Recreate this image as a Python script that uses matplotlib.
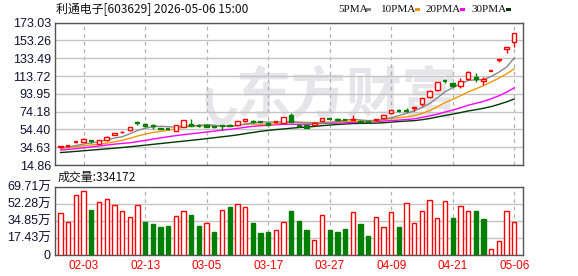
import matplotlib
matplotlib.use("Agg")
import matplotlib.pyplot as plt
import matplotlib.patches as patches
import numpy as np

plt.rcParams['font.family'] = ['Liberation Sans', 'Noto Sans CJK SC', 'DejaVu Sans']

RED = '#ff0000'
GREEN = '#007f00'

title = '利通电子[603629] 2026-05-06 15:00'
vol_title = '成交量:334172'

# trading days, index 0..59
tick_pos = [3, 11, 19, 27, 35, 43, 51, 59]
tick_labels = ['02-03', '02-13', '03-05', '03-17', '03-27', '04-09', '04-21', '05-06']

opens = [34.8, 35.5, 39.8, 40.4, 41.2, 38.5, 42.6, 48.6, 51.0, 53.4,
         61.3, 60.2, 59.3, 56.0, 55.0, 53.2, 57.4, 60.8, 59.0, 59.0,
         57.4, 58.8, 59.5, 59.0, 63.4, 64.0, 62.6, 62.0, 62.0, 61.9,
         70.5, 59.6, 58.8, 59.8, 64.0, 66.2, 66.2, 65.4, 64.9, 64.2,
         63.4, 64.5, 67.2, 72.3, 75.5, 75.3, 77.7, 82.7, 90.1, 97.9,
         108.8, 105.6, 103.2, 110.0, 112.2, 108.6, 119.4, 131.2, 143.4, 152.0]
closes = [35.6, 36.3, 40.5, 43.7, 40.8, 42.6, 46.3, 50.0, 52.0, 56.8,
          61.0, 58.6, 58.2, 55.0, 54.3, 58.9, 64.9, 58.2, 58.5, 57.6,
          56.6, 57.9, 58.2, 63.8, 65.6, 62.8, 62.0, 59.4, 62.8, 67.8,
          63.0, 58.6, 56.5, 62.0, 66.6, 65.9, 64.5, 64.9, 66.4, 63.0,
          62.2, 66.0, 70.0, 75.6, 75.0, 74.9, 79.5, 89.0, 97.4, 106.8,
          108.3, 102.8, 108.6, 117.9, 110.0, 110.0, 120.0, 132.3, 145.7, 161.2]
highs = [36.0, 36.8, 41.0, 44.5, 42.5, 43.0, 46.8, 50.5, 52.5, 57.2,
         63.5, 61.0, 60.0, 56.5, 55.4, 59.3, 65.3, 66.0, 60.5, 59.5,
         57.8, 59.3, 60.0, 64.2, 66.0, 64.6, 63.0, 62.4, 63.2, 68.2,
         72.5, 60.0, 59.0, 62.3, 67.0, 67.5, 66.6, 65.8, 70.5, 64.6,
         63.8, 66.4, 70.4, 76.0, 77.0, 78.5, 79.8, 89.5, 97.8, 107.2,
         110.8, 106.5, 111.4, 119.7, 116.6, 112.8, 120.2, 132.5, 146.0, 161.5]
lows = [33.5, 35.0, 39.0, 40.0, 39.5, 38.0, 42.0, 48.3, 50.5, 53.0,
        59.5, 58.3, 55.0, 54.5, 53.8, 52.8, 57.0, 57.8, 57.0, 57.0,
        56.2, 53.8, 57.8, 58.7, 62.5, 62.0, 61.6, 59.0, 61.8, 61.5,
        62.6, 57.0, 56.2, 59.5, 63.8, 64.8, 64.2, 64.5, 64.6, 62.7,
        61.8, 64.0, 66.8, 71.8, 73.8, 73.8, 75.2, 80.5, 89.6, 97.5,
        105.6, 101.6, 101.0, 109.6, 107.2, 104.0, 119.2, 129.4, 139.0, 146.4]

ma5 = [34.5, 35.0, 36.5, 38.2, 39.4, 40.8, 42.8, 44.7, 46.3, 49.5,
       53.2, 55.7, 57.3, 57.9, 57.4, 57.0, 58.3, 58.3, 59.0, 59.6,
       59.2, 57.8, 57.8, 58.8, 60.4, 61.7, 62.5, 62.7, 62.5, 63.0,
       63.0, 62.3, 61.7, 61.6, 61.3, 61.9, 63.1, 64.8, 65.7, 64.9,
       64.2, 64.5, 65.5, 67.4, 69.8, 72.3, 75.0, 78.8, 83.2, 89.5,
       96.2, 100.9, 104.8, 108.9, 109.5, 109.9, 113.3, 118.0, 123.6, 133.8]
ma10 = [33.4, 34.2, 35.2, 36.3, 37.2, 38.1, 39.2, 40.6, 42.3, 44.5,
        47.0, 49.2, 51.0, 52.1, 53.5, 55.1, 57.0, 57.8, 58.4, 58.5,
        58.1, 58.0, 58.0, 58.9, 60.0, 60.4, 60.1, 60.2, 60.7, 61.7,
        62.3, 62.4, 62.2, 62.1, 62.2, 62.5, 62.7, 63.3, 63.6, 63.1,
        63.1, 63.8, 65.2, 66.5, 67.4, 68.3, 69.8, 72.2, 75.3, 79.6,
        84.3, 87.9, 91.8, 96.0, 99.5, 103.0, 107.1, 111.4, 116.2, 121.7]
ma20 = [31.5, 32.2, 33.0, 34.0, 35.0, 36.0, 37.0, 38.0, 38.8, 39.6,
        40.8, 42.2, 43.6, 45.0, 46.3, 47.5, 48.6, 49.5, 50.5, 51.5,
        52.5, 53.6, 54.5, 55.5, 56.8, 57.8, 58.5, 59.0, 59.6, 60.1,
        60.2, 60.2, 60.1, 60.5, 61.1, 61.4, 61.4, 61.8, 62.1, 62.4,
        62.7, 63.1, 63.7, 64.3, 64.8, 65.4, 66.2, 67.7, 69.4, 71.4,
        73.7, 75.9, 78.5, 81.3, 83.4, 85.6, 88.4, 91.8, 95.8, 100.7]
ma30 = [28.7, 29.3, 30.0, 30.7, 31.4, 32.1, 32.8, 33.5, 34.3, 35.1,
        36.0, 36.9, 37.8, 38.7, 39.6, 40.5, 41.4, 42.3, 43.2, 44.2,
        45.2, 46.2, 47.2, 48.3, 49.7, 51.0, 52.3, 53.3, 54.2, 54.9,
        55.8, 56.5, 57.1, 57.7, 58.6, 59.3, 59.9, 60.4, 60.9, 61.1,
        61.2, 61.4, 61.8, 62.5, 63.2, 63.7, 64.2, 65.2, 66.5, 68.2,
        69.9, 71.4, 73.1, 74.9, 76.3, 77.9, 79.8, 82.3, 85.0, 88.2]

# volume in 万 shares, 1 = red (up), 0 = green
volume = [42.4, 33.2, 61.2, 65.0, 45.8, 53.7, 56.8, 50.9, 44.5, 38.3,
          50.9, 33.2, 31.5, 28.1, 29.4, 39.7, 44.5, 40.7, 29.4, 32.2,
          23.0, 45.5, 48.9, 51.7, 48.6, 32.5, 22.2, 23.3, 25.0, 33.2,
          44.5, 34.2, 25.0, 14.8, 40.4, 25.0, 23.0, 26.0, 43.5, 31.5,
          19.2, 38.3, 28.1, 43.5, 28.1, 52.7, 32.2, 44.5, 55.8, 37.3,
          54.7, 37.3, 49.6, 44.5, 44.5, 36.3, 5.5, 13.7, 44.5, 33.4]
vol_up = [1, 1, 1, 1, 0, 1, 1, 1, 1, 1,
          1, 0, 0, 0, 0, 1, 1, 0, 0, 1,
          0, 1, 0, 1, 1, 0, 0, 0, 1, 1,
          0, 0, 0, 1, 1, 0, 0, 0, 1, 0,
          0, 1, 1, 1, 0, 1, 1, 1, 1, 1,
          1, 0, 1, 1, 0, 0, 1, 1, 1, 1]

price_ticks = [14.86, 34.63, 54.40, 74.18, 93.95, 113.72, 133.49, 153.26, 173.03]
vol_ticks = [0, 17.43, 34.85, 52.28, 69.71]
vol_tick_labels = ['0', '17.43万', '34.85万', '52.28万', '69.71万']

ma_names = ['5PMA', '10PMA', '20PMA', '30PMA']
ma_colors = ['#888888', '#f39800', '#ff00ff', '#003800']


def style_axis(ax):
    for s in ax.spines.values():
        s.set_color('#555555')
        s.set_linewidth(1.0)
    ax.set_xlim(-0.72, 60.14)
    ax.set_xticks(tick_pos)
    ax.grid(axis='y', color='#c4c4c4', linewidth=1.0, linestyle='-')
    ax.grid(axis='x', color='#b0b0b0', linewidth=0.9, linestyle=(0, (3, 3)))
    ax.set_axisbelow(True)
    ax.tick_params(length=0, pad=3)


def draw_candles(ax):
    x = np.arange(len(opens))
    w = 0.58
    for i in x:
        o, c, h, l = opens[i], closes[i], highs[i], lows[i]
        up = c >= o
        col = RED if up else GREEN
        ax.vlines(i, l, h, color=col, linewidth=1.0, zorder=2)
        lo, hi = min(o, c), max(o, c)
        if hi - lo < 0.8:
            ax.hlines((o + c) / 2, i - w / 2, i + w / 2, color=col, linewidth=1.6, zorder=3)
        else:
            ax.bar(i, hi - lo, bottom=lo, width=w,
                   facecolor='white' if up else col, edgecolor=col,
                   linewidth=1.0, zorder=3)


def main():
    fig = plt.figure(figsize=(5.78, 2.76), dpi=100)
    W, H = 578, 276
    ax1 = fig.add_axes([55 / W, (H - 165) / H, 468 / W, 142.3 / H])
    ax2 = fig.add_axes([55 / W, (H - 254.7) / H, 468 / W, 68 / H])

    # price panel
    style_axis(ax1)
    ax1.set_ylim(price_ticks[0], price_ticks[-1])
    ax1.set_yticks(price_ticks)
    ax1.set_yticklabels(['%.2f' % v for v in price_ticks], fontsize=9, color='#111133')
    ax1.set_xticklabels([])

    # watermark
    ax1.text((236 - 55) / 468, 0.48, '东方财富', transform=ax1.transAxes, fontsize=40,
             family=['Noto Sans CJK SC'], fontweight='bold', color='#e6e6ea',
             ha='left', va='center', zorder=0)
    ax1.add_patch(patches.Arc(((222 - 55) / 468, 0.47), 26 / 468, 48 / 142.3,
                              theta1=110, theta2=290, transform=ax1.transAxes,
                              color='#e6e6ea', linewidth=5, zorder=0))

    x = np.arange(len(opens))
    for vals, col in zip([ma30, ma20, ma10, ma5], ma_colors[::-1]):
        ax1.plot(x, vals, color=col, linewidth=1.0, zorder=1.5)
    draw_candles(ax1)

    fig.text(56 / W, 1 - 10 / H, title, fontsize=8.6, family=['Noto Sans CJK SC'],
             va='center', ha='left', color='#111111')

    # legend
    lx = [338, 381, 426, 472]
    for name, col, px in zip(ma_names, ma_colors, lx):
        fig.text(px / W, 1 - 9 / H, name, fontsize=8, family=['Liberation Serif'],
                 va='center', ha='left', color='#111111')
        wlen = {4: 25, 5: 31}[len(name)]
        fig.patches.append(plt.Rectangle(((px + wlen + 3) / W, 1 - 11 / H), 5 / W, 3 / H,
                                         transform=fig.transFigure, facecolor=col,
                                         edgecolor='none'))

    # volume panel
    style_axis(ax2)
    ax2.set_ylim(0, vol_ticks[-1])
    ax2.set_yticks(vol_ticks)
    ax2.set_yticklabels(vol_tick_labels, fontsize=9, color='#111133',
                        family=['Liberation Sans', 'Noto Sans CJK SC'])
    ax2.set_xticklabels(tick_labels, fontsize=8.5, color=RED)
    ax2.tick_params(axis='x', pad=4)
    for i, v in enumerate(volume):
        col = RED if vol_up[i] else GREEN
        ax2.bar(i, v, width=0.56, facecolor='white' if vol_up[i] else col,
                edgecolor=col, linewidth=1.0, zorder=3)
    fig.text(58 / W, 1 - 177 / H, vol_title, fontsize=8.6,
             family=['Noto Sans CJK SC'], va='center', ha='left', color='#111111')

    fig.savefig('out.png', dpi=100, facecolor='white')


if __name__ == '__main__':
    main()
